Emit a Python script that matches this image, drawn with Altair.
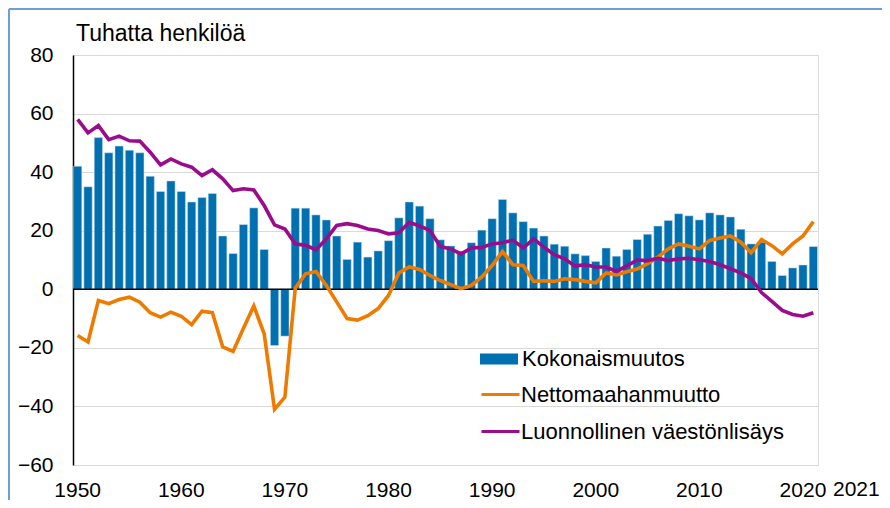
import altair as alt
import pandas as pd

years = list(range(1950, 2022))

kokonaismuutos = [
    42.0, 35.0, 51.8, 46.6, 48.9, 47.5, 46.6, 38.6, 33.4, 37.0,
    33.4, 29.8, 31.3, 32.7, 18.2, 12.2, 22.1, 27.8, 13.6, -19.2,
    -16.0, 27.7, 27.7, 25.4, 23.7, 18.2, 10.2, 16.1, 11.0, 13.1,
    16.6, 24.4, 29.8, 28.4, 24.1, 16.9, 14.8, 13.0, 15.9, 20.2,
    24.1, 30.7, 26.1, 23.1, 20.9, 18.2, 15.4, 14.7, 12.1, 11.5,
    9.5, 14.1, 11.3, 13.6, 17.0, 18.8, 21.6, 23.5, 25.8, 25.1,
    23.7, 26.1, 25.4, 24.7, 20.5, 15.5, 16.1, 9.5, 4.7, 7.3,
    8.3, 14.6,
]

nettomaahanmuutto = [
    -15.8, -18.0, -3.8, -4.9, -3.5, -2.7, -4.4, -8.0, -9.5, -7.8,
    -9.2, -12.1, -7.5, -8.0, -19.7, -21.2, -13.3, -5.7, -15.2, -41.0,
    -36.8, 0.4, 5.3, 6.1, 1.3, -4.3, -10.0, -10.5, -9.0, -6.6,
    -2.1, 5.6, 7.6, 6.8, 4.7, 3.0, 1.6, 0.2, 1.3, 4.2,
    8.1, 12.9, 8.4, 8.1, 2.7, 2.9, 2.7, 3.6, 3.3, 2.7,
    2.2, 5.6, 4.9, 6.0, 6.9, 8.7, 11.0, 13.8, 15.5, 14.7,
    13.8, 16.7, 17.5, 18.2, 16.1, 12.5, 17.0, 14.9, 12.1, 15.5,
    18.2, 23.1,
]

luonnollinen = [
    58.0, 53.4, 55.9, 51.1, 52.3, 50.7, 50.6, 46.8, 42.5, 44.5,
    42.8, 41.7, 38.8, 40.8, 37.7, 33.7, 34.3, 33.9, 28.6, 22.0,
    20.6, 15.5, 15.0, 13.5, 17.2, 21.8, 22.4, 21.8, 20.6, 20.1,
    18.9, 19.3, 22.9, 21.6, 20.1, 14.6, 13.8, 12.1, 14.1, 14.3,
    15.5, 15.9, 16.8, 14.1, 17.2, 14.4, 11.8, 10.4, 7.9, 8.4,
    7.6, 7.6, 6.1, 8.0, 10.0, 9.8, 10.6, 9.8, 10.4, 10.6,
    10.1, 9.5, 8.4, 7.0, 5.6, 3.6, -1.1, -4.1, -7.2, -8.6,
    -9.2, -8.0,
]

bar_series = "Kokonaismuutos"
line_series = ["Nettomaahanmuutto", "Luonnollinen väestönlisäys"]
x_tick_years = [1950, 1960, 1970, 1980, 1990, 2000, 2010, 2020]
y_ticks = [-60, -40, -20, 0, 20, 40, 60, 80]
title_text = "Tuhatta henkilöä"
extra_label = "2021"

FONT = "Liberation Sans"
BLUE = "#0070B0"
ORANGE = "#EE7B00"
PURPLE = "#9B0C8C"
W, H = 745, 410
PAD_L, PAD_T, PAD_R, PAD_B = 65, 47, 64, 35

bars_df = pd.DataFrame({"year": years, "value": kokonaismuutos, "series": bar_series})
lines_df = pd.concat([
    pd.DataFrame({"year": years, "value": nettomaahanmuutto, "series": line_series[0]}),
    pd.DataFrame({"year": years, "value": luonnollinen, "series": line_series[1]}),
], ignore_index=True)

x_enc = alt.X(
    "year:O",
    scale=alt.Scale(paddingInner=0.2, paddingOuter=0.05),
    axis=alt.Axis(
        values=x_tick_years, labelAngle=0, title=None, domain=False, ticks=False,
        grid=False, labelFont=FONT, labelFontSize=21, labelColor="black",
        labelPadding=14,
    ),
)
y_enc = alt.Y(
    "value:Q",
    scale=alt.Scale(domain=[-60, 80], nice=False, zero=False),
    axis=alt.Axis(
        values=y_ticks, title=None, grid=True, gridColor="#d9d9d9", gridWidth=1,
        domain=True, domainColor="black", domainWidth=1.5, ticks=False,
        labelPadding=20, labelFont=FONT, labelFontSize=21, labelColor="black",
    ),
)

bars = alt.Chart(bars_df).mark_bar(stroke="#cfe3f1", strokeWidth=0.5).encode(
    x=x_enc,
    y=y_enc,
    fill=alt.Fill(
        "series:N",
        scale=alt.Scale(domain=[bar_series], range=[BLUE]),
        legend=alt.Legend(
            title=None, orient="none", legendX=407, legendY=285,
            symbolType="M-1,-0.29H1V0.29H-1Z", symbolSize=1444,
            symbolStrokeWidth=0, labelFont=FONT, labelFontSize=22,
            labelColor="black", labelOffset=4, labelLimit=0,
        ),
    ),
)

lines = alt.Chart(lines_df).mark_line(strokeWidth=3.6).encode(
    x="year:O",
    y="value:Q",
    stroke=alt.Stroke(
        "series:N",
        scale=alt.Scale(domain=line_series, range=[ORANGE, PURPLE]),
        sort=line_series,
        legend=alt.Legend(
            title=None, orient="none", legendX=407, legendY=319,
            symbolType="stroke", symbolSize=1444, symbolStrokeWidth=3,
            labelFont=FONT, labelFontSize=22, labelColor="black",
            labelOffset=0, rowPadding=5, labelLimit=0,
        ),
    ),
    detail="series:N",
)

zero_rule = alt.Chart(pd.DataFrame({"z": [0]})).mark_rule(
    color="black", strokeWidth=1.5
).encode(y=alt.Y("z:Q"))

extra = alt.Chart(pd.DataFrame({"year": [2021], "t": [extra_label]})).mark_text(
    font=FONT, fontSize=21, color="black", baseline="top", dx=43
).encode(x="year:O", y=alt.value(H + 14), text="t:N")

title = alt.Chart(pd.DataFrame({"t": [title_text]})).mark_text(
    font=FONT, fontSize=23, color="black", align="left", baseline="alphabetic"
).encode(x=alt.value(3), y=alt.value(-14), text="t:N")

frame = alt.Chart(pd.DataFrame({"a": [0]})).mark_rule(
    color="#6A9FD8", strokeWidth=2
).encode(x=alt.value(-PAD_L + 1), y=alt.value(-PAD_T + 1), y2=alt.value(H + PAD_B))
frame_top = alt.Chart(pd.DataFrame({"a": [0]})).mark_rule(
    color="#6A9FD8", strokeWidth=2
).encode(x=alt.value(-PAD_L + 1), x2=alt.value(W + PAD_R), y=alt.value(-PAD_T + 1))

chart = alt.layer(bars, zero_rule, lines, extra, title, frame, frame_top).resolve_legend(
    fill="independent", stroke="independent"
).properties(
    width=W, height=H,
    autosize=alt.AutoSizeParams(type="none"),
    padding={"left": PAD_L, "top": PAD_T, "right": PAD_R, "bottom": PAD_B},
).configure_view(stroke=None).configure(background="white")

chart.save("out.html", embed_options={"renderer": "svg", "actions": False})
